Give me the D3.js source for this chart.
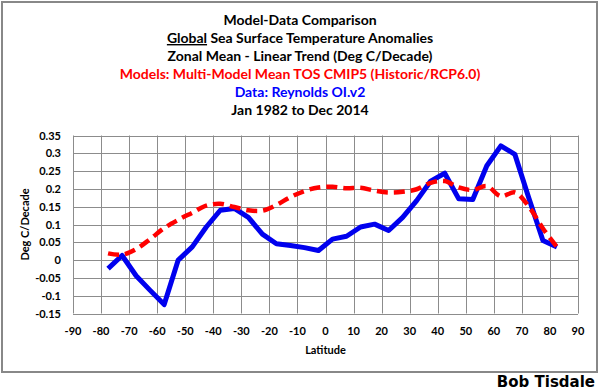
<!DOCTYPE html>
<html lang="en">
<head>
<meta charset="UTF-8">
<title>Model-Data Comparison</title>
<script src="https://d3js.org/d3.v7.min.js"></script>
<style>
  body { margin: 0; background: #fff; }
  text { font-family: Lato, "Open Sans", sans-serif; font-weight: bold; }
</style>
</head>
<body>
<script>
// latitude band centres (deg)
const latitudes = [-77.5, -72.5, -67.5, -62.5, -57.5, -52.5, -47.5, -42.5, -37.5, -32.5, -27.5,
  -22.5, -17.5, -12.5, -7.5, -2.5, 2.5, 7.5, 12.5, 17.5, 22.5, 27.5, 32.5, 37.5, 42.5,
  47.5, 52.5, 57.5, 62.5, 67.5, 72.5, 77.5, 82.5];

// Reynolds OI.v2 trend, deg C/decade
const dataTrend = [-0.024, 0.013, -0.044, -0.085, -0.125, 0.0, 0.037, 0.093, 0.140, 0.145, 0.120,
  0.073, 0.046, 0.041, 0.035, 0.027, 0.059, 0.067, 0.093, 0.101, 0.083, 0.120, 0.167, 0.222, 0.244,
  0.172, 0.170, 0.265, 0.321, 0.297, 0.174, 0.055, 0.037];

// CMIP5 multi-model mean trend, deg C/decade
const modelTrend = [0.019, 0.015, 0.031, 0.059, 0.090, 0.113, 0.133, 0.153, 0.158, 0.149, 0.140,
  0.139, 0.155, 0.177, 0.194, 0.204, 0.206, 0.202, 0.203, 0.195, 0.190, 0.192, 0.199, 0.217, 0.222,
  0.204, 0.197, 0.208, 0.179, 0.190, 0.150, 0.089, 0.037];

const xTicks = d3.range(-90, 91, 10);
const yTicks = [-0.15, -0.1, -0.05, 0, 0.05, 0.1, 0.15, 0.2, 0.25, 0.3, 0.35];

const titleLines = [
  {text: "Model-Data Comparison", color: "#000"},
  {text: "Sea Surface Temperature Anomalies", color: "#000", underlined: "Global"},
  {text: "Zonal Mean - Linear Trend (Deg C/Decade)", color: "#000"},
  {text: "Models: Multi-Model Mean TOS CMIP5 (Historic/RCP6.0)", color: "#ff0000"},
  {text: "Data: Reynolds OI.v2", color: "#0000ff"},
  {text: "Jan 1982 to Dec 2014", color: "#000"}
];

const width = 600, height = 392;
const svg = d3.select("body").append("svg")
  .attr("width", width)
  .attr("height", height);

svg.append("rect")
  .attr("width", width).attr("height", height).attr("fill", "#fff");

// outer frame
svg.append("rect")
  .attr("x", 2).attr("y", 2)
  .attr("width", 595).attr("height", 370)
  .attr("fill", "none")
  .attr("stroke", "#888")
  .attr("stroke-width", 2);

const x = d3.scaleLinear().domain([-90, 90]).range([73, 578]);
const y = d3.scaleLinear().domain([-0.15, 0.35]).range([313.5, 135.5]);

// titles
const titles = svg.append("g").attr("text-anchor", "middle").style("font-size", "14px");
titleLines.forEach((t, i) => {
  const txt = titles.append("text")
    .attr("x", 300)
    .attr("y", 25 + i * 18)
    .attr("fill", t.color);
  if (t.underlined) {
    txt.append("tspan").attr("text-decoration", "underline").text(t.underlined);
    txt.append("tspan").text(" " + t.text);
  } else {
    txt.text(t.text);
  }
});

// grid
const grid = svg.append("g").attr("stroke", "#8c8c8c").attr("stroke-width", 1);
grid.selectAll(".vx").data(xTicks).enter().append("line")
  .attr("x1", d => Math.round(x(d)) + 0.5).attr("x2", d => Math.round(x(d)) + 0.5)
  .attr("y1", y(0.35)).attr("y2", y(-0.15));
grid.selectAll(".hy").data(yTicks).enter().append("line")
  .attr("x1", x(-90)).attr("x2", x(90))
  .attr("y1", d => Math.round(y(d)) + 0.5).attr("y2", d => Math.round(y(d)) + 0.5);

// axis labels
svg.append("g").attr("text-anchor", "end").style("font-size", "11px")
  .selectAll("text").data(yTicks).enter().append("text")
  .attr("x", 61)
  .attr("y", d => y(d) + 4)
  .text(d => String(d));

svg.append("g").attr("text-anchor", "middle").style("font-size", "11px")
  .selectAll("text").data(xTicks).enter().append("text")
  .attr("x", d => x(d))
  .attr("y", 335)
  .text(d => String(d));

svg.append("text")
  .attr("text-anchor", "middle")
  .attr("x", (x(-90) + x(90)) / 2)
  .attr("y", 354)
  .style("font-size", "11px")
  .text("Latitude");

svg.append("text")
  .attr("text-anchor", "middle")
  .attr("transform", "translate(29," + ((y(0.35) + y(-0.15)) / 2) + ") rotate(-90)")
  .style("font-size", "11px")
  .text("Deg C/Decade");

// series
const line = (vals, curve) => d3.line()
  .x((d, i) => x(latitudes[i]))
  .y(d => y(d))
  .curve(curve)(vals);

svg.append("path")
  .attr("d", line(dataTrend, d3.curveLinear))
  .attr("fill", "none")
  .attr("stroke", "#0000ee")
  .attr("stroke-width", 5)
  .attr("stroke-linejoin", "round");

svg.append("path")
  .attr("d", line(modelTrend, d3.curveCatmullRom.alpha(0.5)))
  .attr("fill", "none")
  .attr("stroke", "#ff0000")
  .attr("stroke-width", 4.5)
  .attr("stroke-dasharray", "11,6");

// signature
svg.append("text")
  .attr("text-anchor", "end")
  .attr("x", 595)
  .attr("y", 387)
  .style("font-family", "'DejaVu Sans', sans-serif")
  .style("font-size", "15px")
  .text("Bob Tisdale");
</script>
</body>
</html>
